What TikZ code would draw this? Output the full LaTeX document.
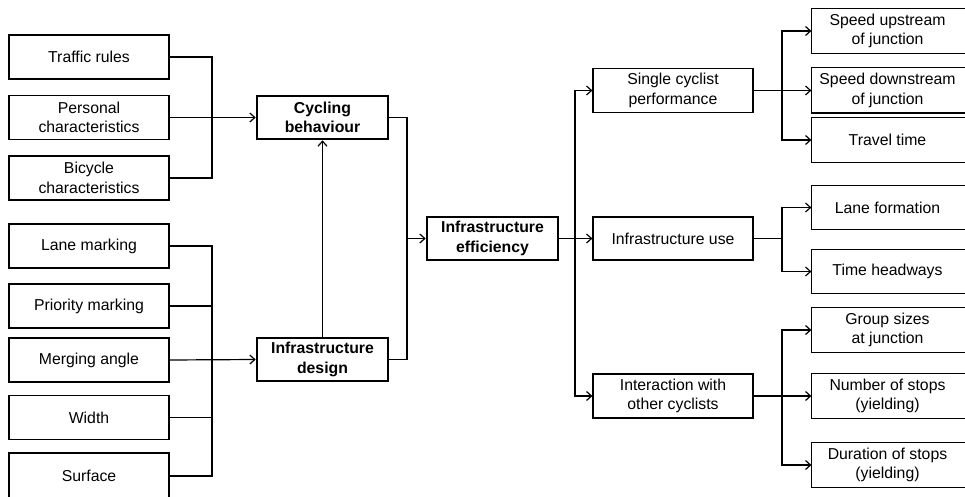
\documentclass[tikz,border=0pt]{standalone}
\usepackage{fontspec}
\setmainfont{Liberation Sans}
\usetikzlibrary{arrows.meta}
\begin{document}
\begin{tikzpicture}[x=1pt,y=-1pt,
  box/.style={draw=black,line width=1.2pt,align=center,inner sep=0pt,
    font=\fontsize{15.8}{19.5}\selectfont,fill=white},
  lbox/.style={box,minimum width=160pt,minimum height=44pt},
  mbox/.style={box,line width=2.6pt,minimum width=131pt,minimum height=43pt,font=\fontsize{15.8}{19.5}\selectfont\bfseries},
  rbox/.style={box,draw=none,minimum width=151pt,minimum height=44pt,
    append after command={\pgfextra{\draw[line width=1.2pt]
      ([xshift=12pt]\tikzlastnode.north east) -| (\tikzlastnode.south west)
      -- ([xshift=12pt]\tikzlastnode.south east);}}},
  conn/.style={line width=1.2pt},
  arr/.style={conn,-{Straight Barb[length=5pt,width=9pt,line width=1.2pt]}}
]
\useasboundingbox (0,0) rectangle (965,497);
% left column
\node[lbox] (tr) at (89,57) {Traffic rules};
\node[lbox] (pc) at (89,117.5) {Personal\\characteristics};
\node[lbox] (bc) at (89,178) {Bicycle\\characteristics};
\node[lbox] (lm) at (89,246) {Lane marking};
\node[lbox] (pm) at (89,306) {Priority marking};
\node[lbox] (ma) at (89,360) {Merging angle};
\node[lbox] (wi) at (89,417.5) {Width};
\node[lbox,minimum height=46pt] (sf) at (89,476) {Surface};
% middle
\node[mbox] (cb) at (322.5,117.5) {Cycling\\behaviour};
\node[mbox] (ds) at (322.5,359.5) {Infrastructure\\design};
\node[mbox] (ef) at (492.5,238.5) {Infrastructure\\efficiency};
% level 2
\node[lbox] (sc) at (673,90.5) {Single cyclist\\performance};
\node[lbox,minimum height=43pt] (iu) at (673,238.5) {Infrastructure use};
\node[lbox] (ia) at (673,396) {Interaction with\\other cyclists};
% right (cut off by the right edge)
\node[rbox] (su) at (887.5,31) {Speed upstream\\of junction};
\node[rbox] (sd) at (887.5,90.5) {Speed downstream\\of junction};
\node[rbox] (tt) at (887.5,140) {Travel time};
\node[rbox,minimum height=43pt] (lf) at (887.5,207.5) {Lane formation};
\node[rbox,minimum height=43pt] (th) at (887.5,271.5) {Time headways};
\node[rbox] (gs) at (887.5,330) {Group sizes\\at junction};
\node[rbox] (nsx) at (887.5,396) {Number of stops\\(yielding)};
\node[rbox] (du) at (887.5,465) {Duration of stops\\(yielding)};
% junction coordinates
\coordinate (jA) at (212,0);
\coordinate (jB) at (407,0);
\coordinate (jC) at (575,0);
\coordinate (jD) at (782,0);
% left connectors
\draw[conn] (tr.east) -| (jA |- bc.east) -- (bc.east);
\draw[arr] (pc.east) -- (cb.west);
\draw[conn] (lm.east) -| (jA |- sf.east) -- (sf.east);
\draw[conn] (pm.east) -- (pm.east -| jA);
\draw[conn] (wi.east) -- (wi.east -| jA);
\draw[arr] (ma.east) -- (ds.west);
\draw[arr] (ds.north) -- (cb.south);
\draw[conn] (cb.east) -| (jB |- ds.east) -- (ds.east);
\draw[arr] (jB |- ef.west) -- (ef.west);
% efficiency split
\draw[arr] (ef.east) -- (iu.west);
\draw[arr] (ef.east -| jC) |- (sc.west);
\draw[arr] (ef.east -| jC) |- (ia.west);
% right splits
\draw[arr] (sc.east) -- (sd.west);
\draw[arr] (sc.east -| jD) |- (su.west);
\draw[arr] (sc.east -| jD) |- (tt.west);
\draw[conn] (iu.east) -- (iu.east -| jD);
\draw[arr] (iu.east -| jD) |- (lf.west);
\draw[arr] (iu.east -| jD) |- (th.west);
\draw[arr] (ia.east) -- (nsx.west);
\draw[arr] (ia.east -| jD) |- (gs.west);
\draw[arr] (ia.east -| jD) |- (du.west);
\end{tikzpicture}
\end{document}
